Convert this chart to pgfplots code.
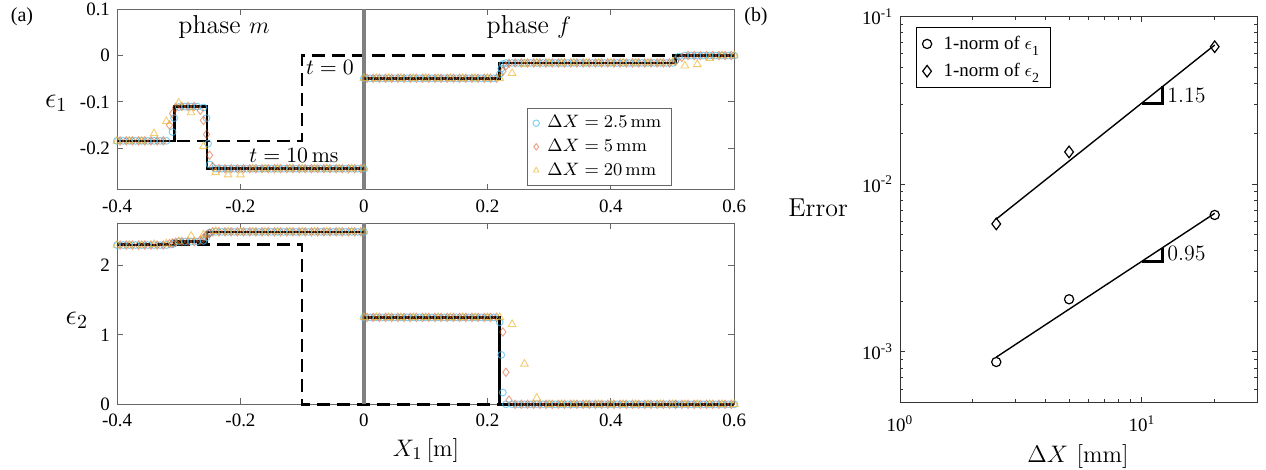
\documentclass[border=0pt]{standalone}
\usepackage[no-math]{fontspec}
\newfontfamily\tms{Liberation Serif}
\usepackage{pgfplots}
\pgfplotsset{compat=1.18}
\usepackage{pgfplotstable}

\definecolor{cblue}{RGB}{77,190,238}
\definecolor{cred}{RGB}{217,83,25}
\definecolor{cyel}{RGB}{237,177,32}
\newcommand\tickfont{\tms\fontsize{9.5}{11}\selectfont}
\newcommand\labfont{\fontsize{13}{15}\selectfont}
\newcommand\epsfont{\fontsize{14.5}{16}\selectfont}

% columns: x, epsilon_1, epsilon_2  (dX = 2.5 mm)
\pgfplotstableread{
x e1 e2
-0.40 -0.184 2.29
-0.39 -0.184 2.29
-0.38 -0.184 2.29
-0.37 -0.184 2.29
-0.36 -0.184 2.29
-0.35 -0.184 2.29
-0.34 -0.184 2.29
-0.33 -0.184 2.29
-0.32 -0.184 2.29
-0.31 -0.165 2.30
-0.3075 -0.135 2.32
-0.30 -0.111 2.34
-0.29 -0.110 2.34
-0.28 -0.110 2.34
-0.27 -0.110 2.34
-0.26 -0.112 2.35
-0.255 -0.135 2.40
-0.2525 -0.190 2.45
-0.25 -0.235 2.47
-0.24 -0.244 2.48
-0.23 -0.244 2.48
-0.22 -0.244 2.48
-0.21 -0.244 2.48
-0.20 -0.244 2.48
-0.19 -0.244 2.48
-0.18 -0.244 2.48
-0.17 -0.244 2.48
-0.16 -0.244 2.48
-0.15 -0.244 2.48
-0.14 -0.244 2.48
-0.13 -0.244 2.48
-0.12 -0.244 2.48
-0.11 -0.244 2.48
-0.10 -0.244 2.48
-0.09 -0.244 2.48
-0.08 -0.244 2.48
-0.07 -0.244 2.48
-0.06 -0.244 2.48
-0.05 -0.244 2.48
-0.04 -0.244 2.48
-0.03 -0.244 2.48
-0.02 -0.244 2.48
-0.01 -0.244 2.48
0.00 -0.244 2.48
0.00 -0.049 1.25
0.01 -0.049 1.25
0.02 -0.049 1.25
0.03 -0.049 1.25
0.04 -0.049 1.25
0.05 -0.049 1.25
0.06 -0.049 1.25
0.07 -0.049 1.25
0.08 -0.049 1.25
0.09 -0.049 1.25
0.10 -0.049 1.25
0.11 -0.049 1.25
0.12 -0.049 1.25
0.13 -0.049 1.25
0.14 -0.049 1.25
0.15 -0.049 1.25
0.16 -0.049 1.25
0.17 -0.049 1.25
0.18 -0.049 1.25
0.19 -0.049 1.25
0.20 -0.049 1.25
0.21 -0.049 1.25
0.22 -0.040 1.18
0.2225 -0.028 0.71
0.225 -0.018 0.17
0.23 -0.016 0.00
0.24 -0.016 0.00
0.25 -0.016 0.00
0.26 -0.016 0.00
0.27 -0.016 0.00
0.28 -0.016 0.00
0.29 -0.016 0.00
0.30 -0.016 0.00
0.31 -0.016 0.00
0.32 -0.016 0.00
0.33 -0.016 0.00
0.34 -0.016 0.00
0.35 -0.016 0.00
0.36 -0.016 0.00
0.37 -0.016 0.00
0.38 -0.016 0.00
0.39 -0.016 0.00
0.40 -0.016 0.00
0.41 -0.016 0.00
0.42 -0.016 0.00
0.43 -0.016 0.00
0.44 -0.016 0.00
0.45 -0.016 0.00
0.46 -0.016 0.00
0.47 -0.016 0.00
0.48 -0.016 0.00
0.49 -0.016 0.00
0.50 -0.016 0.00
0.505 -0.010 0.00
0.51 -0.002 0.00
0.52 0.000 0.00
0.53 0.000 0.00
0.54 0.000 0.00
0.55 0.000 0.00
0.56 0.000 0.00
0.57 0.000 0.00
0.58 0.000 0.00
0.59 0.000 0.00
0.60 0.000 0.00
}\circdata

% dX = 5 mm
\pgfplotstableread{
x e1 e2
-0.395 -0.184 2.29
-0.385 -0.184 2.29
-0.375 -0.184 2.29
-0.365 -0.184 2.29
-0.355 -0.184 2.29
-0.345 -0.184 2.29
-0.335 -0.184 2.29
-0.325 -0.184 2.29
-0.315 -0.150 2.31
-0.31 -0.125 2.32
-0.305 -0.112 2.33
-0.295 -0.110 2.34
-0.285 -0.110 2.34
-0.275 -0.110 2.34
-0.265 -0.118 2.36
-0.26 -0.140 2.39
-0.255 -0.170 2.43
-0.25 -0.215 2.46
-0.245 -0.240 2.48
-0.235 -0.244 2.48
-0.225 -0.244 2.48
-0.215 -0.244 2.48
-0.205 -0.244 2.48
-0.195 -0.244 2.48
-0.185 -0.244 2.48
-0.175 -0.244 2.48
-0.165 -0.244 2.48
-0.155 -0.244 2.48
-0.145 -0.244 2.48
-0.135 -0.244 2.48
-0.125 -0.244 2.48
-0.115 -0.244 2.48
-0.105 -0.244 2.48
-0.095 -0.244 2.48
-0.085 -0.244 2.48
-0.075 -0.244 2.48
-0.065 -0.244 2.48
-0.055 -0.244 2.48
-0.045 -0.244 2.48
-0.035 -0.244 2.48
-0.025 -0.244 2.48
-0.015 -0.244 2.48
-0.005 -0.244 2.48
0.005 -0.049 1.25
0.015 -0.049 1.25
0.025 -0.049 1.25
0.035 -0.049 1.25
0.045 -0.049 1.25
0.055 -0.049 1.25
0.065 -0.049 1.25
0.075 -0.049 1.25
0.085 -0.049 1.25
0.095 -0.049 1.25
0.105 -0.049 1.25
0.115 -0.049 1.25
0.125 -0.049 1.25
0.135 -0.049 1.25
0.145 -0.049 1.25
0.155 -0.049 1.25
0.165 -0.049 1.25
0.175 -0.049 1.25
0.185 -0.049 1.25
0.195 -0.049 1.25
0.205 -0.049 1.25
0.215 -0.049 1.25
0.225 -0.034 1.04
0.23 -0.022 0.46
0.235 -0.017 0.06
0.245 -0.016 0.00
0.255 -0.016 0.00
0.265 -0.016 0.00
0.275 -0.016 0.00
0.285 -0.016 0.00
0.295 -0.016 0.00
0.305 -0.016 0.00
0.315 -0.016 0.00
0.325 -0.016 0.00
0.335 -0.016 0.00
0.345 -0.016 0.00
0.355 -0.016 0.00
0.365 -0.016 0.00
0.375 -0.016 0.00
0.385 -0.016 0.00
0.395 -0.016 0.00
0.405 -0.016 0.00
0.415 -0.016 0.00
0.425 -0.016 0.00
0.435 -0.016 0.00
0.445 -0.016 0.00
0.455 -0.016 0.00
0.465 -0.016 0.00
0.475 -0.016 0.00
0.485 -0.016 0.00
0.495 -0.016 0.00
0.505 -0.012 0.00
0.515 -0.004 0.00
0.525 0.000 0.00
0.535 0.000 0.00
0.545 0.000 0.00
0.555 0.000 0.00
0.565 0.000 0.00
0.575 0.000 0.00
0.585 0.000 0.00
0.595 0.000 0.00
}\diamdata

% dX = 20 mm
\pgfplotstableread{
x e1 e2
-0.40 -0.184 2.29
-0.38 -0.184 2.29
-0.36 -0.184 2.29
-0.34 -0.168 2.30
-0.32 -0.142 2.31
-0.30 -0.102 2.34
-0.28 -0.123 2.42
-0.26 -0.196 2.44
-0.24 -0.252 2.49
-0.22 -0.257 2.48
-0.20 -0.257 2.48
-0.18 -0.244 2.48
-0.16 -0.244 2.48
-0.14 -0.244 2.48
-0.12 -0.244 2.48
-0.10 -0.244 2.48
-0.08 -0.244 2.48
-0.06 -0.244 2.48
-0.04 -0.244 2.48
-0.02 -0.244 2.48
0.00 -0.244 2.48
0.00 -0.049 1.25
0.02 -0.049 1.25
0.04 -0.049 1.25
0.06 -0.049 1.25
0.08 -0.049 1.25
0.10 -0.049 1.25
0.12 -0.049 1.25
0.14 -0.049 1.25
0.16 -0.049 1.25
0.18 -0.049 1.25
0.20 -0.049 1.25
0.22 -0.049 1.25
0.24 -0.038 1.15
0.26 -0.018 0.58
0.28 -0.016 0.09
0.30 -0.016 0.00
0.32 -0.016 0.00
0.34 -0.016 0.00
0.36 -0.016 0.00
0.38 -0.016 0.00
0.40 -0.016 0.00
0.42 -0.016 0.00
0.44 -0.016 0.00
0.46 -0.016 0.00
0.48 -0.016 0.00
0.50 -0.014 0.00
0.52 -0.022 0.00
0.54 -0.019 0.00
0.56 -0.006 0.00
0.58 0.000 0.00
0.60 0.000 0.00
}\tridata

\pgfplotsset{
  leftaxis/.style={
    scale only axis, width=308.65bp, height=90.4bp,
    xmin=-0.4, xmax=0.6,
    axis line style={black!60, line width=0.5bp},
    tick style={black!60, line width=0.5bp},
    major tick length=3bp, tick align=inside, tick pos=both,
    ticklabel style={font=\tickfont},
    xtick={-0.4,-0.2,0,0.2,0.4,0.6},
    xticklabels={-0.4,-0.2,0,0.2,0.4,0.6},
    xticklabel style={yshift=-1.5bp},
    clip=false,
  },
  mcirc/.style={only marks, mark=o, mark size=1.7bp, mark options={draw=cblue, draw opacity=0.7, line width=0.5bp}},
  mdiam/.style={only marks, mark=diamond, mark size=2.1bp, mark options={draw=cred, draw opacity=0.55, line width=0.45bp}},
  mtri/.style={only marks, mark=triangle, mark size=2.2bp, mark options={draw=cyel, draw opacity=0.65, line width=0.45bp}},
}

\begin{document}
\begin{tikzpicture}
\useasboundingbox (0,0) rectangle (633bp,235bp);

% ---------------- top-left: epsilon_1
\begin{axis}[leftaxis,
  at={(58.5bp,140bp)}, anchor=south west,
  ymin=-0.29, ymax=0.1,
  ytick={-0.2,-0.1,0,0.1}, yticklabels={-0.2,-0.1,0,0.1},
  ylabel={$\epsilon_1$},
  every axis y label/.style={at={(axis description cs:-0.069,0.481)}, anchor=east, font=\epsfont},
  legend style={at={(axis description cs:0.6634,0.453)}, anchor=north west,
    draw=black!60, line width=0.5bp, fill=white, font=\fontsize{9}{10}\selectfont,
    inner ysep=1.5bp, row sep=0.2bp, legend cell align=left},
  legend image post style={mark size=1.6bp},
]
\addplot[black, line width=1.3bp, dash pattern=on 6.5bp off 3.5bp, forget plot]
  coordinates {(-0.4,-0.184) (-0.1,-0.184) (-0.1,0) (0.6,0)};
\addplot[gray, line width=2bp, forget plot] coordinates {(0,-0.29) (0,0.1)};
\addplot[mcirc] table[x=x, y=e1] {\circdata};
\addlegendentry{\hspace{2bp}$\Delta X = 2.5\,\mathrm{mm}$}
\addplot[mdiam] table[x=x, y=e1] {\diamdata};
\addlegendentry{\hspace{2bp}$\Delta X = 5\,\mathrm{mm}$}
\addplot[mtri] table[x=x, y=e1] {\tridata};
\addlegendentry{\hspace{2bp}$\Delta X = 20\,\mathrm{mm}$}
\addplot[black, line width=1.3bp, forget plot]
  coordinates {(-0.4,-0.184) (-0.307,-0.184) (-0.307,-0.110) (-0.254,-0.110) (-0.254,-0.244) (0,-0.244)};
\addplot[black, line width=1.3bp, forget plot]
  coordinates {(0,-0.049) (0.22,-0.049) (0.22,-0.016) (0.505,-0.016) (0.505,0) (0.6,0)};
\node[font=\labfont, anchor=base] at (axis cs:-0.2267,0.048) {phase $m$};
\node[font=\labfont, anchor=base] at (axis cs:0.2674,0.048) {phase $f$};
\node[font=\fontsize{10.5}{12}\selectfont, anchor=base] at (axis cs:-0.055,-0.0415) {$t=0$};
\node[font=\fontsize{10.5}{12}\selectfont, anchor=base] at (axis cs:-0.1133,-0.2314) {$t=10\,\mathrm{ms}$};
\end{axis}

% ---------------- bottom-left: epsilon_2
\begin{axis}[leftaxis,
  at={(58.5bp,32.85bp)}, anchor=south west,
  ymin=0, ymax=2.6,
  ytick={0,1,2}, yticklabels={0,1,2},
  ylabel={$\epsilon_2$},
  every axis y label/.style={at={(axis description cs:-0.0356,0.466)}, anchor=east, font=\epsfont},
  xlabel={$X_1\,[\mathrm{m}]$},
  every axis x label/.style={at={(axis description cs:0.5006,-0.286)}, anchor=base, font=\labfont},
]
\addplot[black, line width=1.3bp, dash pattern=on 6.5bp off 3.5bp]
  coordinates {(-0.4,2.3) (-0.1,2.3) (-0.1,0) (0.6,0)};
\addplot[gray, line width=2bp] coordinates {(0,0) (0,2.6)};
\addplot[mcirc] table[x=x, y=e2] {\circdata};
\addplot[mdiam] table[x=x, y=e2] {\diamdata};
\addplot[mtri] table[x=x, y=e2] {\tridata};
\addplot[black, line width=1.3bp]
  coordinates {(-0.4,2.29) (-0.307,2.29) (-0.307,2.34) (-0.254,2.34) (-0.254,2.48) (0,2.48)};
\addplot[black, line width=1.3bp]
  coordinates {(0,1.25) (0.22,1.25) (0.22,0) (0.6,0)};
\end{axis}

% ---------------- right: convergence
\begin{axis}[
  at={(450bp,33.85bp)}, anchor=south west,
  scale only axis, width=178.65bp, height=192.8bp,
  xmode=log, ymode=log,
  xmin=1, xmax=30, ymin=5e-4, ymax=0.1,
  axis line style={black!80, line width=0.5bp},
  tick style={black!80, line width=0.5bp},
  major tick length=2.5bp, minor tick length=1.5bp,
  tick align=inside, tick pos=both,
  xtick={1,10}, xticklabels={10\textsuperscript{0},10\textsuperscript{1}},
  minor xtick={2,3,4,5,6,7,8,9,20,30},
  ytick={1e-3,1e-2,1e-1}, yticklabels={10\textsuperscript{-3},10\textsuperscript{-2},10\textsuperscript{-1}},
  minor ytick={6e-4,7e-4,8e-4,9e-4,2e-3,3e-3,4e-3,5e-3,6e-3,7e-3,8e-3,9e-3,2e-2,3e-2,4e-2,5e-2,6e-2,7e-2,8e-2,9e-2},
  ticklabel style={font=\tickfont},
  xticklabel style={yshift=-3bp},
  ylabel={Error},
  every axis y label/.style={at={(axis description cs:-0.126,0.4806)}, anchor=base east, font=\labfont},
  xlabel={$\Delta X\ [\mathrm{mm}]$},
  every axis x label/.style={at={(axis description cs:0.498,-0.157)}, anchor=base, font=\labfont},
  legend style={at={(axis description cs:0.0448,0.9725)}, anchor=north west,
    draw=black, line width=0.5bp, font=\tms\fontsize{9.5}{11}\selectfont,
    inner ysep=2bp, row sep=1.5bp, legend cell align=left},
  clip=false,
]
\addplot[only marks, mark=o, mark size=2.3bp, mark options={black, line width=0.6bp}]
  coordinates {(2.5,8.7e-4) (5,2.06e-3) (20,6.56e-3)};
\addlegendentry{\hspace{4bp}1-norm of $\epsilon_{\raisebox{-0.5ex}{\tms\scriptsize 1}}$}
\addplot[only marks, mark=diamond, mark size=2.9bp, mark options={black, line width=0.6bp}]
  coordinates {(2.5,5.8e-3) (5,1.56e-2) (20,6.62e-2)};
\addlegendentry{\hspace{4bp}1-norm of $\epsilon_{\raisebox{-0.5ex}{\tms\scriptsize 2}}$}
\addplot[black, line width=0.7bp, forget plot] coordinates {(2.5,9.3e-4) (20,6.71e-3)};
\addplot[black, line width=0.7bp, forget plot] coordinates {(2.5,6.2e-3) (20,6.78e-2)};
\addplot[black, line width=1.4bp, forget plot] coordinates {(10,0.0305) (12.2,0.0305) (12.2,0.0384)};
\addplot[black, line width=1.4bp, forget plot] coordinates {(10,3.475e-3) (12.2,3.475e-3) (12.2,4.19e-3)};
\node[anchor=west, font=\fontsize{11}{12}\selectfont, inner sep=0pt] at (axis cs:12.7,0.0341) {1.15};
\node[anchor=west, font=\fontsize{11}{12}\selectfont, inner sep=0pt] at (axis cs:12.7,3.86e-3) {0.95};
\end{axis}

\node[font=\tms\fontsize{10}{12}\selectfont] at (11bp,226.5bp) {(a)};
\node[font=\tms\fontsize{10}{12}\selectfont] at (378bp,226.5bp) {(b)};
\end{tikzpicture}
\end{document}
